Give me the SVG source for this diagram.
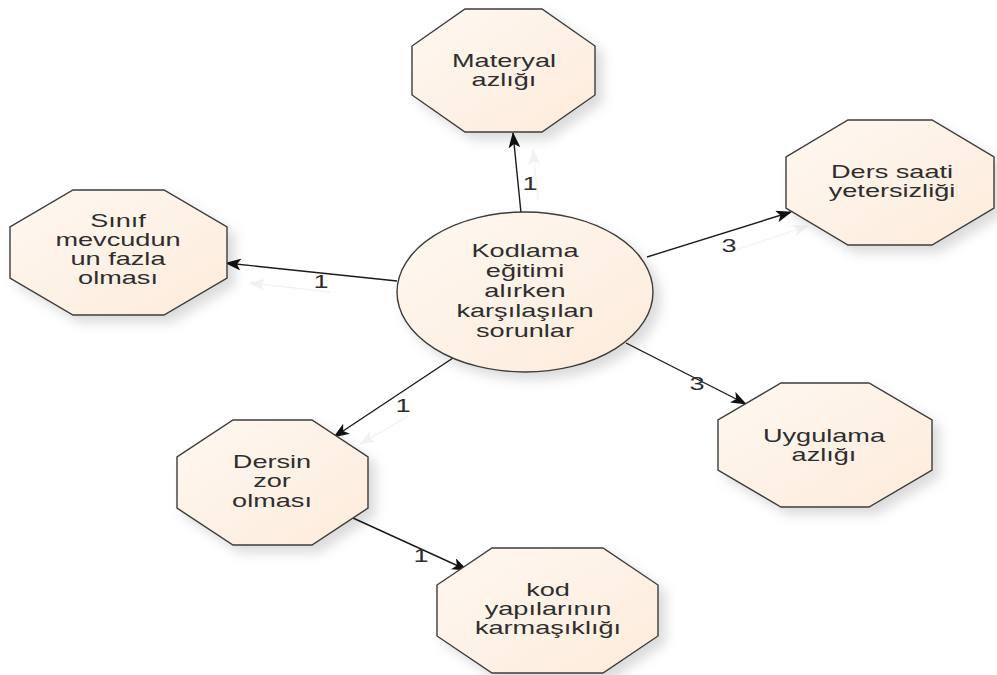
<svg xmlns="http://www.w3.org/2000/svg" width="997" height="675" viewBox="0 0 997 675">
  <defs>
    <linearGradient id="nodeFill" x1="0" y1="0" x2="1" y2="1">
      <stop offset="0" stop-color="#fff8f1"/>
      <stop offset="1" stop-color="#fcebdb"/>
    </linearGradient>
    <filter id="softShadow" x="-20%" y="-20%" width="150%" height="150%">
      <feDropShadow dx="7" dy="7" stdDeviation="6" flood-color="#000" flood-opacity="0.14"/>
    </filter>
    <marker id="arrow" viewBox="0 0 16 12" refX="15" refY="6" markerWidth="16" markerHeight="12" markerUnits="userSpaceOnUse" orient="auto">
      <path d="M0,0 L16,6 L0,12 L4,6 Z" fill="#111"/>
    </marker>
    <marker id="ghostArrow" viewBox="0 0 16 12" refX="15" refY="6" markerWidth="16" markerHeight="12" markerUnits="userSpaceOnUse" orient="auto">
      <path d="M0,0 L16,6 L0,12 L4,6 Z" fill="#f1f1f1"/>
    </marker>
  </defs>
  <style>
    .shape { fill: url(#nodeFill); stroke: #3c3c3c; stroke-width: 1.4; filter: url(#softShadow); }
    .label { font-family: "Liberation Sans", Arial, sans-serif; font-size: 17.5px; fill: #2e2e2e; text-anchor: middle; }
    .edge { stroke: #1a1a1a; stroke-width: 1.4; fill: none; marker-end: url(#arrow); }
    .ghost { stroke: #f2f2f2; stroke-width: 1.3; fill: none; marker-end: url(#ghostArrow); }
  </style>

  <rect width="997" height="675" fill="#ffffff"/>

  <!-- connector shadows -->
  <g id="connector-shadows">
    <line class="ghost" x1="538" y1="200" x2="533" y2="150"/>
    <line class="ghost" x1="330" y1="292" x2="250" y2="283"/>
    <line class="ghost" x1="730" y1="252" x2="808" y2="226"/>
    <line class="ghost" x1="408" y1="416" x2="360" y2="444"/>
  </g>

  <!-- connectors -->
  <g id="connectors">
    <line class="edge" x1="521" y1="213" x2="513" y2="133"/>
    <line class="edge" x1="397" y1="281" x2="226" y2="263"/>
    <line class="edge" x1="647" y1="257" x2="791" y2="212"/>
    <line class="edge" x1="626" y1="343" x2="746" y2="404"/>
    <line class="edge" x1="456" y1="356" x2="334" y2="437"/>
    <line class="edge" x1="353" y1="518" x2="467" y2="570"/>
    <g class="label">
      <g transform="translate(530,0) scale(1.55,1)"><text x="0" y="190">1</text></g>
      <g transform="translate(321,0) scale(1.55,1)"><text x="0" y="288">1</text></g>
      <g transform="translate(729,0) scale(1.55,1)"><text x="0" y="252">3</text></g>
      <g transform="translate(697,0) scale(1.55,1)"><text x="0" y="390">3</text></g>
      <g transform="translate(403,0) scale(1.55,1)"><text x="0" y="412">1</text></g>
      <g transform="translate(421,0) scale(1.55,1)"><text x="0" y="562">1</text></g>
    </g>
  </g>

  <!-- central topic -->
  <g id="center">
    <ellipse class="shape" cx="525" cy="292" rx="128" ry="80"/>
    <g class="label" transform="translate(525,0) scale(1.55,1)">
      <text x="0" y="257">Kodlama</text>
      <text x="0" y="277">eğitimi</text>
      <text x="0" y="297">alırken</text>
      <text x="0" y="317">karşılaşılan</text>
      <text x="0" y="337">sorunlar</text>
    </g>
  </g>

  <g id="materyal">
    <polygon class="shape" points="465,9 542,9 595,46 595,95 542,132 465,132 412,95 412,46"/>
    <g class="label" transform="translate(504,0) scale(1.55,1)">
      <text x="0" y="67">Materyal</text>
      <text x="0" y="86">azlığı</text>
    </g>
  </g>

  <g id="sinif">
    <polygon class="shape" points="73,190 164,190 227,227 227,278 164,315 73,315 10,278 10,227"/>
    <g class="label" transform="translate(118,0) scale(1.55,1)">
      <text x="0" y="227">Sınıf</text>
      <text x="0" y="246">mevcudun</text>
      <text x="0" y="265">un fazla</text>
      <text x="0" y="284">olması</text>
    </g>
  </g>

  <g id="ders-saati">
    <polygon class="shape" points="848,120 932,120 994,157 994,208 932,245 848,245 786,208 786,157"/>
    <g class="label" transform="translate(892,0) scale(1.55,1)">
      <text x="0" y="178">Ders saati</text>
      <text x="0" y="197">yetersizliği</text>
    </g>
  </g>

  <g id="uygulama">
    <polygon class="shape" points="781,383 869,383 932,420 932,470 869,507 781,507 718,470 718,420"/>
    <g class="label" transform="translate(824,0) scale(1.55,1)">
      <text x="0" y="442">Uygulama</text>
      <text x="0" y="461">azlığı</text>
    </g>
  </g>

  <g id="dersin">
    <polygon class="shape" points="233,420 312,420 368,457 368,508 312,545 233,545 177,508 177,457"/>
    <g class="label" transform="translate(272,0) scale(1.55,1)">
      <text x="0" y="468">Dersin</text>
      <text x="0" y="487">zor</text>
      <text x="0" y="507">olması</text>
    </g>
  </g>

  <g id="kod">
    <polygon class="shape" points="492,548 603,548 658,585 658,636 603,673 492,673 437,636 437,585"/>
    <g class="label" transform="translate(548,0) scale(1.55,1)">
      <text x="0" y="596">kod</text>
      <text x="0" y="615">yapılarının</text>
      <text x="0" y="634">karmaşıklığı</text>
    </g>
  </g>
</svg>
